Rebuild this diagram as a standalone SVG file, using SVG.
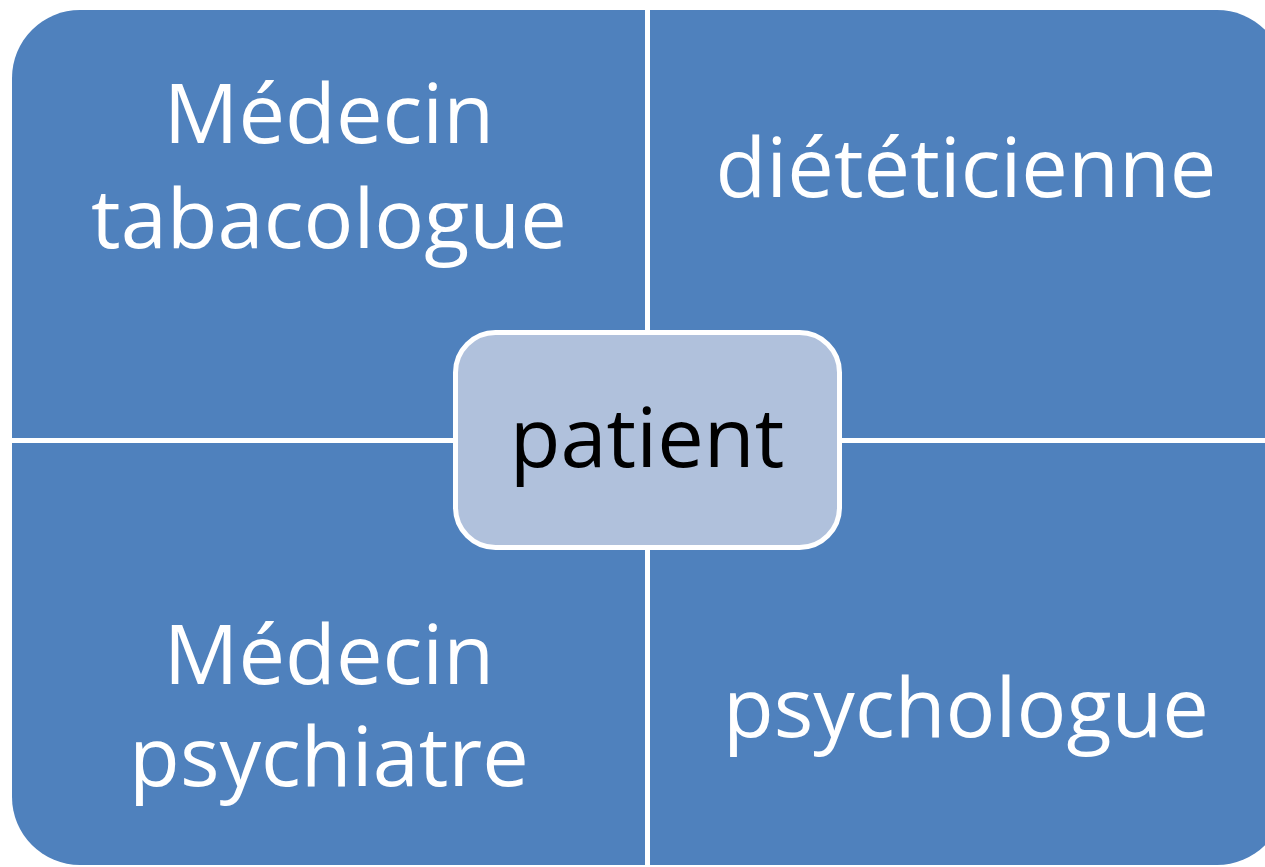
<svg xmlns="http://www.w3.org/2000/svg" width="1265" height="867" viewBox="0 0 1265 867">
  <style>
    .quad { fill: #4F81BD; }
    .lbl { font-family: "Open Sans", "Liberation Sans", sans-serif; font-size: 83px; fill: #FFFFFF; text-anchor: middle; }
    .center { fill: #B0C1DC; stroke: #FFFFFF; stroke-width: 5; }
    .clbl { font-family: "Open Sans", "Liberation Sans", sans-serif; font-size: 83px; fill: #000000; text-anchor: middle; }
  </style>
  <rect width="1265" height="867" fill="#FFFFFF"/>
  <g id="medecin-tabacologue">
    <path class="quad" d="M12,438 V78 A68,68 0 0 1 80,10 H645 V438 Z"/>
    <text class="lbl" x="329" y="143">Médecin</text>
    <text class="lbl" x="329" y="248">tabacologue</text>
  </g>
  <g id="dieteticienne">
    <path class="quad" d="M650,10 H1217 A68,68 0 0 1 1285,78 V438 H650 Z"/>
    <text class="lbl" x="966" y="197">diététicienne</text>
  </g>
  <g id="medecin-psychiatre">
    <path class="quad" d="M12,443 H645 V865 H80 A68,68 0 0 1 12,797 Z"/>
    <text class="lbl" x="329" y="684">Médecin</text>
    <text class="lbl" x="329" y="786">psychiatre</text>
  </g>
  <g id="psychologue">
    <path class="quad" d="M650,443 H1285 V797 A68,68 0 0 1 1217,865 H650 Z"/>
    <text class="lbl" x="966" y="737">psychologue</text>
  </g>
  <g id="patient">
    <rect class="center" x="455.5" y="332.5" width="384" height="215" rx="40" ry="40"/>
    <text class="clbl" x="647" y="467">patient</text>
  </g>
</svg>
